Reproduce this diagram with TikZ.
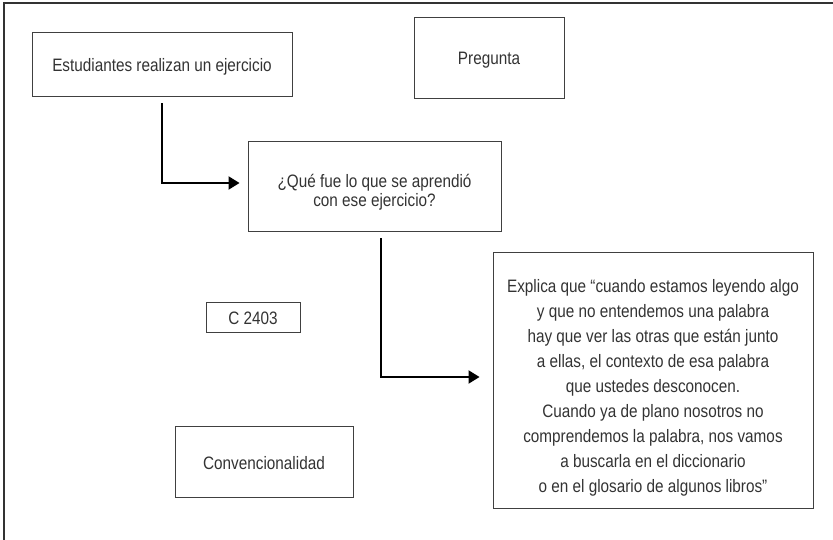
\documentclass[tikz,border=0pt]{standalone}
\usepackage{fontspec}
\setmainfont[FakeStretch=0.85]{Liberation Sans}
\usepackage{tikz}
\usetikzlibrary{arrows.meta, positioning}

\begin{document}
\begin{tikzpicture}[
  x=1pt, y=-1pt,
  box/.style={draw=black!75, line width=0.9pt, text=black!80, align=center, inner sep=0pt, font=\fontsize{18}{22.2}\selectfont},
  oneline/.style={text height=15pt, text depth=0pt},
  flecha/.style={line width=2pt, -{Triangle[length=11pt, width=13pt]}}
]
  \useasboundingbox (0,0) rectangle (833,540);
  \draw[black!80, line width=1.3pt] (4,540) -- (4,3) -- (833,3);

  \node[box, oneline, minimum width=260pt, minimum height=64pt] (est) at (162,64) {Estudiantes realizan un ejercicio};
  \node[box, oneline, minimum width=150pt, minimum height=81pt] (preg) at (489,57.5) {Pregunta};
  \node[box, minimum width=253pt, minimum height=90pt, font=\fontsize{18}{19.5}\selectfont] (que) at (374.5,186) {\rule{0pt}{26pt}¿Qué fue lo que se aprendió\\con ese ejercicio?};
  \node[box, minimum width=320pt, minimum height=256pt, font=\fontsize{18}{25}\selectfont] (exp) at (653,380) {\rule{0pt}{28pt}Explica que “cuando estamos leyendo algo\\y que no entendemos una palabra\\hay que ver las otras que están junto\\a ellas, el contexto de esa palabra\\que ustedes desconocen.\\Cuando ya de plano nosotros no\\comprendemos la palabra, nos vamos\\a buscarla en el diccionario\\o en el glosario de algunos libros”};
  \node[box, oneline, minimum width=94pt, minimum height=30pt] (cod) at (253,317) {C 2403};
  \node[box, oneline, minimum width=178pt, minimum height=71pt] (conv) at (264,461.5) {Convencionalidad};

  \draw[flecha, shorten <=7pt, shorten >=8pt] (est.south) |- ([yshift=3pt]que.west);
  \draw[flecha, shorten <=7pt, shorten >=13pt] ([xshift=6pt]que.south) |- ([yshift=3pt]exp.west);
\end{tikzpicture}
\end{document}
